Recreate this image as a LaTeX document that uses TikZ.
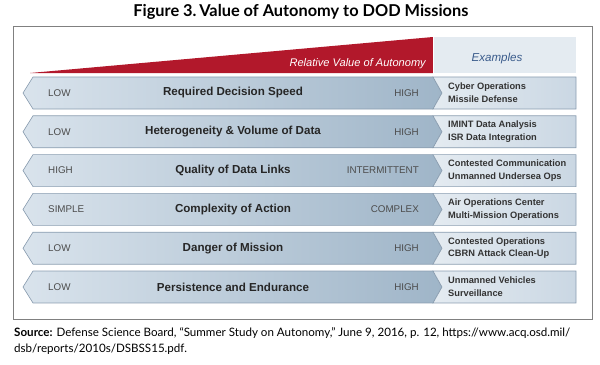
\documentclass[tikz,border=0pt]{standalone}
\usepackage{fontspec}
\setmainfont{Liberation Sans}
\newfontfamily\gillfont{Lato}
\definecolor{autored}{HTML}{B2182B}
\definecolor{bandlight}{HTML}{D9E3EC}
\definecolor{banddark}{HTML}{9FB5C8}
\definecolor{bandline}{HTML}{8A9DB0}
\definecolor{exlight}{HTML}{E4EBF1}
\definecolor{exdark}{HTML}{CAD7E3}
\definecolor{exblue}{HTML}{3B5C8C}
\tikzset{
  band/.style={draw=bandline, line width=0.6pt, left color=bandlight, right color=banddark},
  excell/.style={draw=bandline, line width=0.6pt, left color=exlight, right color=exdark},
  level/.style={font=\fontsize{9.3}{11}\selectfont, text=black!70, inner sep=0pt},
  factor/.style={font=\fontsize{11}{13}\selectfont\bfseries, text=black!85, inner sep=0pt},
  exlabel/.style={font=\fontsize{8.8}{12}\selectfont\bfseries, text=black!80, align=left, anchor=west, inner sep=0pt}
}
\begin{document}
\begin{tikzpicture}
            \useasboundingbox (0,0) rectangle (20,12.1667);

            % Title and outer frame
            \node[font=\gillfont\fontsize{15.5}{18}\selectfont\bfseries] (title) at (10.03,11.767) {Figure 3.\,Value of Autonomy to DOD Missions};
            \draw[black!50, line width=0.8pt] (0.433,1.533) rectangle (19.733,11.3);

            % Red wedge for the value of autonomy
            \fill[autored] (1.0,9.733) -- (14.433,10.933) -- (14.433,9.733) -- cycle;
            \node[anchor=east, text=white, font=\fontsize{10.5}{12}\selectfont\itshape, inner sep=0pt] (wedge) at (14.2,10.06) {Relative Value of Autonomy};

            % Header box of the examples column
            \fill[exlight] (14.467,9.733) rectangle (19.2,10.933);
            \node[text=exblue, font=\fontsize{11}{13}\selectfont\itshape] (examples) at (16.567,10.233) {Examples};

            % Row 1
            \draw[band] (0.767,9.067) -- (1.1,9.6) -- (14.433,9.6) -- (14.733,9.067) -- (14.433,8.533) -- (1.1,8.533) -- cycle;
            \draw[excell] (14.433,9.6) -- (19.2,9.6) -- (19.2,8.533) -- (14.433,8.533) -- (14.733,9.067) -- cycle;
            \node[level, anchor=west] (low1) at (1.6,9.067) {LOW};
            \node[factor] (speed) at (7.767,9.067) {Required Decision Speed};
            \node[level, anchor=east] (high1) at (13.967,9.067) {HIGH};
            \node[exlabel] (ex1) at (14.933,9.067) {Cyber Operations\\Missile Defense};

            % Row 2
            \draw[band] (0.767,7.773) -- (1.1,8.307) -- (14.433,8.307) -- (14.733,7.773) -- (14.433,7.24) -- (1.1,7.24) -- cycle;
            \draw[excell] (14.433,8.307) -- (19.2,8.307) -- (19.2,7.24) -- (14.433,7.24) -- (14.733,7.773) -- cycle;
            \node[level, anchor=west] (low2) at (1.6,7.773) {LOW};
            \node[factor] (volume) at (7.767,7.773) {Heterogeneity \& Volume of Data};
            \node[level, anchor=east] (high2) at (13.967,7.773) {HIGH};
            \node[exlabel] (ex2) at (14.933,7.773) {IMINT Data Analysis\\ISR Data Integration};

            % Row 3
            \draw[band] (0.767,6.48) -- (1.1,7.013) -- (14.433,7.013) -- (14.733,6.48) -- (14.433,5.947) -- (1.1,5.947) -- cycle;
            \draw[excell] (14.433,7.013) -- (19.2,7.013) -- (19.2,5.947) -- (14.433,5.947) -- (14.733,6.48) -- cycle;
            \node[level, anchor=west] (high3) at (1.6,6.48) {HIGH};
            \node[factor] (links) at (7.767,6.48) {Quality of Data Links};
            \node[level, anchor=east] (interm3) at (13.967,6.48) {INTERMITTENT};
            \node[exlabel] (ex3) at (14.933,6.48) {Contested Communication\\Unmanned Undersea Ops};

            % Row 4
            \draw[band] (0.767,5.187) -- (1.1,5.72) -- (14.433,5.72) -- (14.733,5.187) -- (14.433,4.653) -- (1.1,4.653) -- cycle;
            \draw[excell] (14.433,5.72) -- (19.2,5.72) -- (19.2,4.653) -- (14.433,4.653) -- (14.733,5.187) -- cycle;
            \node[level, anchor=west] (simple4) at (1.6,5.187) {SIMPLE};
            \node[factor] (action) at (7.767,5.187) {Complexity of Action};
            \node[level, anchor=east] (complex4) at (13.967,5.187) {COMPLEX};
            \node[exlabel] (ex4) at (14.933,5.187) {Air Operations Center\\Multi-Mission Operations};

            % Row 5
            \draw[band] (0.767,3.893) -- (1.1,4.427) -- (14.433,4.427) -- (14.733,3.893) -- (14.433,3.36) -- (1.1,3.36) -- cycle;
            \draw[excell] (14.433,4.427) -- (19.2,4.427) -- (19.2,3.36) -- (14.433,3.36) -- (14.733,3.893) -- cycle;
            \node[level, anchor=west] (low5) at (1.6,3.893) {LOW};
            \node[factor] (danger) at (7.767,3.893) {Danger of Mission};
            \node[level, anchor=east] (high5) at (13.967,3.893) {HIGH};
            \node[exlabel] (ex5) at (14.933,3.893) {Contested Operations\\CBRN Attack Clean-Up};

            % Row 6
            \draw[band] (0.767,2.6) -- (1.1,3.133) -- (14.433,3.133) -- (14.733,2.6) -- (14.433,2.067) -- (1.1,2.067) -- cycle;
            \draw[excell] (14.433,3.133) -- (19.2,3.133) -- (19.2,2.067) -- (14.433,2.067) -- (14.733,2.6) -- cycle;
            \node[level, anchor=west] (low6) at (1.6,2.6) {LOW};
            \node[factor] (endurance) at (7.767,2.6) {Persistence and Endurance};
            \node[level, anchor=east] (high6) at (13.967,2.6) {HIGH};
            \node[exlabel] (ex6) at (14.933,2.6) {Unmanned Vehicles\\Surveillance};

            % Source line below the frame
            \node[anchor=west, align=left, inner sep=0pt, font=\gillfont\fontsize{11}{16}\selectfont] (source) at (0.467,0.8) {\textbf{Source:} Defense Science Board, “Summer Study on Autonomy,” June 9, 2016, p. 12, https://www.acq.osd.mil/\\dsb/reports/2010s/DSBSS15.pdf.};
        \end{tikzpicture}
\end{document}
